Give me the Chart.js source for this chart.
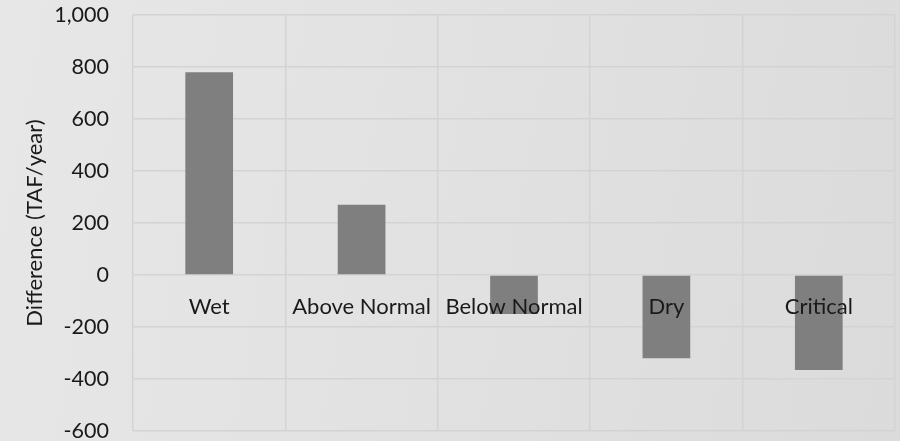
<!DOCTYPE html>
<html>
<head>
<meta charset="utf-8">
<script src="https://cdn.jsdelivr.net/npm/chart.js@4/dist/chart.umd.min.js"></script>
<style>
  html, body { margin: 0; padding: 0; }
  body {
    width: 900px; height: 441px; overflow: hidden;
    background: linear-gradient(100deg, #e7e7e7 0%, #e2e2e2 45%, #dbdbdb 100%);
  }
  #wrap { position: relative; width: 900px; height: 441px; }
</style>
</head>
<body>
<div id="wrap"><canvas id="chart" width="900" height="441"></canvas></div>
<script>
// Water year types and change in annual volume (TAF/year)
const yearTypes = ['Wet', 'Above Normal', 'Below Normal', 'Dry', 'Critical'];
const difference = [780, 270, -150, -320, -365];
const yMin = -600;
const yMax = 1000;
const yStep = 200;
const yTitle = 'Difference (TAF/year)';

const FONT = 'Lato, "Open Sans", "Noto Sans", sans-serif';
const GRID = '#d3d3d3';
const TEXT = '#1a1a1a';

// Category names sit just under the zero line, drawn on top of the bars
const zeroLineLabels = {
  id: 'zeroLineLabels',
  afterDatasetsDraw(chart) {
    const { ctx, scales: { x, y } } = chart;
    const base = y.getPixelForValue(0);
    ctx.save();
    ctx.font = `22px ${FONT}`;
    ctx.fillStyle = TEXT;
    ctx.textAlign = 'center';
    ctx.textBaseline = 'alphabetic';
    chart.data.labels.forEach((label, i) => {
      ctx.fillText(label, x.getPixelForTick(i), base + 38.5);
    });
    ctx.restore();
  }
};

new Chart(document.getElementById('chart'), {
  type: 'bar',
  data: {
    labels: yearTypes,
    datasets: [{
      data: difference,
      backgroundColor: '#7f7f7f',
      borderWidth: 0,
      barPercentage: 0.313,
      categoryPercentage: 1.0
    }]
  },
  plugins: [zeroLineLabels],
  options: {
    responsive: false,
    animation: false,
    devicePixelRatio: 1,
    layout: { padding: { top: 0, right: 5, bottom: 0, left: 22 } },
    plugins: { legend: { display: false }, tooltip: { enabled: false } },
    scales: {
      x: {
        grid: { color: GRID, lineWidth: 1.5, drawTicks: false, offset: true },
        border: { display: false },
        ticks: { display: false }
      },
      y: {
        min: yMin,
        max: yMax,
        grid: { color: GRID, lineWidth: 1.5, drawTicks: false },
        border: { display: false },
        ticks: {
          stepSize: yStep,
          color: TEXT,
          font: { family: FONT, size: 21.5 },
          padding: 24,
          callback: v => v.toLocaleString('en-US')
        },
        title: {
          display: true,
          text: yTitle,
          color: TEXT,
          font: { family: FONT, size: 22 },
          padding: { top: 0, bottom: 16 }
        },
        // fixed axis band width and end insets for the plot area
        afterFit(scale) {
          scale.width = 111;
          scale.paddingTop = 15;
          scale.paddingBottom = 10;
        }
      }
    }
  }
});
</script>
</body>
</html>
